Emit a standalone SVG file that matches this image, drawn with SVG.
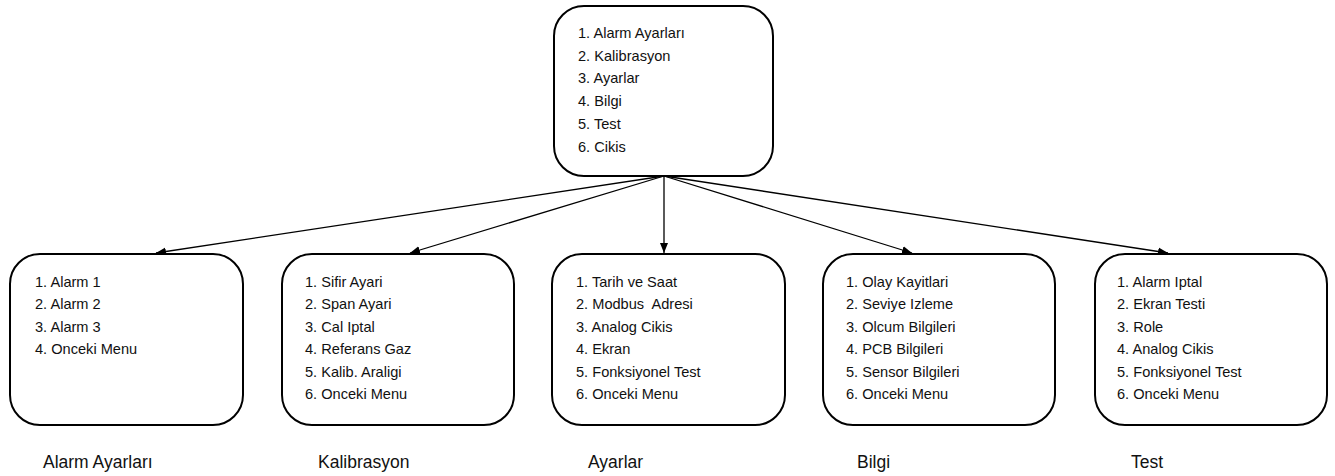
<svg xmlns="http://www.w3.org/2000/svg" width="1335" height="476" viewBox="0 0 1335 476">
<style>
.box{fill:#fff;stroke:#000;stroke-width:2}
.t{font-family:"Liberation Sans",Arial,sans-serif;font-size:14.6px;fill:#111;white-space:pre}
.lbl{font-family:"Liberation Sans",Arial,sans-serif;font-size:17.5px;fill:#111}
.c{stroke:#000;stroke-width:1.3;fill:none;marker-end:url(#ah)}
</style>
<defs>
<marker id="ah" viewBox="0 0 10 10" refX="10" refY="5" markerWidth="10" markerHeight="10" markerUnits="userSpaceOnUse" orient="auto">
<path d="M0,1 L10,5 L0,9 Z" fill="#000"/>
</marker>
</defs>
<rect width="1335" height="476" fill="#fff"/>
<g id="connectors">
<line class="c" x1="664" y1="176" x2="156" y2="253"/>
<line class="c" x1="664" y1="176" x2="410" y2="253"/>
<line class="c" x1="664" y1="176" x2="664" y2="253"/>
<line class="c" x1="664" y1="176" x2="912" y2="253"/>
<line class="c" x1="664" y1="176" x2="1168" y2="253"/>
</g>
<g id="main">
<rect class="box" x="554" y="6" width="219" height="170" rx="30"/>
<text class="t" x="578" y="38">1. Alarm Ayarları</text>
<text class="t" x="578" y="61">2. Kalibrasyon</text>
<text class="t" x="578" y="83">3. Ayarlar</text>
<text class="t" x="578" y="106">4. Bilgi</text>
<text class="t" x="578" y="129">5. Test</text>
<text class="t" x="578" y="152">6. Cikis</text>
</g>
<g id="alarm">
<rect class="box" x="10" y="254" width="233" height="171" rx="30"/>
<text class="t" x="35" y="287">1. Alarm 1</text>
<text class="t" x="35" y="309">2. Alarm 2</text>
<text class="t" x="35" y="332">3. Alarm 3</text>
<text class="t" x="35" y="354">4. Onceki Menu</text>
<text class="lbl" x="43" y="468">Alarm Ayarları</text>
</g>
<g id="kalibrasyon">
<rect class="box" x="282" y="254" width="232" height="171" rx="30"/>
<text class="t" x="305" y="287">1. Sifir Ayari</text>
<text class="t" x="305" y="309">2. Span Ayari</text>
<text class="t" x="305" y="332">3. Cal Iptal</text>
<text class="t" x="305" y="354">4. Referans Gaz</text>
<text class="t" x="305" y="377">5. Kalib. Araligi</text>
<text class="t" x="305" y="399">6. Onceki Menu</text>
<text class="lbl" x="318" y="468">Kalibrasyon</text>
</g>
<g id="ayarlar">
<rect class="box" x="552" y="254" width="233" height="171" rx="30"/>
<text class="t" x="576" y="287">1. Tarih ve Saat</text>
<text class="t" x="576" y="309">2. Modbus  Adresi</text>
<text class="t" x="576" y="332">3. Analog Cikis</text>
<text class="t" x="576" y="354">4. Ekran</text>
<text class="t" x="576" y="377">5. Fonksiyonel Test</text>
<text class="t" x="576" y="399">6. Onceki Menu</text>
<text class="lbl" x="588" y="468">Ayarlar</text>
</g>
<g id="bilgi">
<rect class="box" x="823" y="254" width="232" height="171" rx="30"/>
<text class="t" x="846" y="287">1. Olay Kayitlari</text>
<text class="t" x="846" y="309">2. Seviye Izleme</text>
<text class="t" x="846" y="332">3. Olcum Bilgileri</text>
<text class="t" x="846" y="354">4. PCB Bilgileri</text>
<text class="t" x="846" y="377">5. Sensor Bilgileri</text>
<text class="t" x="846" y="399">6. Onceki Menu</text>
<text class="lbl" x="857" y="468">Bilgi</text>
</g>
<g id="test">
<rect class="box" x="1095" y="254" width="232" height="171" rx="30"/>
<text class="t" x="1117" y="287">1. Alarm Iptal</text>
<text class="t" x="1117" y="309">2. Ekran Testi</text>
<text class="t" x="1117" y="332">3. Role</text>
<text class="t" x="1117" y="354">4. Analog Cikis</text>
<text class="t" x="1117" y="377">5. Fonksiyonel Test</text>
<text class="t" x="1117" y="399">6. Onceki Menu</text>
<text class="lbl" x="1131" y="468">Test</text>
</g>
</svg>
